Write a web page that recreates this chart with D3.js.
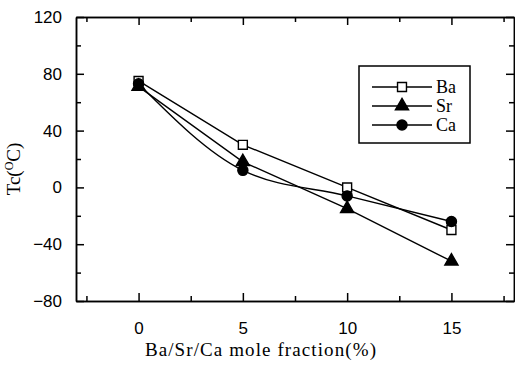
<!DOCTYPE html>
<html>
<head>
<meta charset="utf-8">
<script src="https://cdn.jsdelivr.net/npm/d3@7"></script>
<style>
  body { margin: 0; background: #fff; }
  svg { display: block; }
  .tick text { font-family: "Liberation Sans Narrow", "Liberation Sans", Arial, sans-serif; font-size: 17px; }
  .title { font-family: "Liberation Serif", "Times New Roman", serif; font-size: 19px; }
  .legend text { font-family: "Liberation Serif", "Times New Roman", serif; font-size: 18px; }
</style>
</head>
<body>
<svg width="515" height="368"></svg>
<script>
// data
let fractions = [0, 5, 10, 15];
let baValues = [75, 30, 0, -30];
let srValues = [71, 18, -15, -52];
let caValues = [73, 12, -6, -24];
let xTicks = [0, 5, 10, 15];
let yTicks = [-80, -40, 0, 40, 80, 120];

let seriesNames = ["Ba", "Sr", "Ca"];
let seriesList = [
  { name: "Ba", values: baValues, symbol: d3.symbolSquare, filled: false, curve: d3.curveLinear },
  { name: "Sr", values: srValues, symbol: d3.symbolTriangle, filled: true, curve: d3.curveLinear },
  { name: "Ca", values: caValues, symbol: d3.symbolCircle, filled: true, curve: d3.curveMonotoneX }
];

let svg = d3.select("svg");
let margin = { top: 17, right: 1, bottom: 67, left: 76 };
let width = 515 - margin.left - margin.right;
let height = 368 - margin.top - margin.bottom;

let x = d3.scaleLinear().domain([-3, 18]).range([0, width]);
let y = d3.scaleLinear().domain([-80, 120]).range([height, 0]);

let plot = svg.append("g").attr("transform", "translate(" + margin.left + "," + margin.top + ")");

// minor ticks
let xMinor = [-2.5, 2.5, 7.5, 12.5, 17.5];
let yMinor = [-60, -20, 20, 60, 100];

let xAxis = plot.append("g").attr("transform", "translate(0," + height + ")")
  .call(d3.axisBottom(x).tickValues(xTicks).tickSizeInner(-8).tickSizeOuter(0).tickPadding(21));
let yAxis = plot.append("g")
  .call(d3.axisLeft(y).tickValues(yTicks).tickSizeInner(-8).tickSizeOuter(0).tickPadding(14));
plot.append("g").attr("transform", "translate(0," + height + ")")
  .call(d3.axisBottom(x).tickValues(xMinor).tickSizeInner(-5).tickSizeOuter(0).tickFormat(""));
plot.append("g")
  .call(d3.axisLeft(y).tickValues(yMinor).tickSizeInner(-5).tickSizeOuter(0).tickFormat(""));
plot.append("g")
  .call(d3.axisTop(x).tickValues(xTicks).tickSizeInner(-8).tickSizeOuter(0).tickFormat(""));
plot.append("g")
  .call(d3.axisTop(x).tickValues(xMinor).tickSizeInner(-5).tickSizeOuter(0).tickFormat(""));
plot.append("g").attr("transform", "translate(" + width + ",0)")
  .call(d3.axisRight(y).tickValues(yTicks).tickSizeInner(-8).tickSizeOuter(0).tickFormat(""));
plot.append("g").attr("transform", "translate(" + width + ",0)")
  .call(d3.axisRight(y).tickValues(yMinor).tickSizeInner(-5).tickSizeOuter(0).tickFormat(""));

plot.selectAll(".domain, .tick line").attr("stroke", "#000").attr("stroke-width", 1.5);
plot.selectAll(".tick text").attr("fill", "#000");

// series lines
seriesList.forEach(function(s) {
  let line = d3.line()
    .x(function(d, i) { return x(fractions[i]); })
    .y(function(d) { return y(d); })
    .curve(s.curve);
  plot.append("path")
    .datum(s.values)
    .attr("d", line)
    .attr("fill", "none")
    .attr("stroke", "#000")
    .attr("stroke-width", 1.4);
});

// markers
seriesList.forEach(function(s) {
  let sym = d3.symbol().type(s.symbol).size(s.symbol === d3.symbolTriangle ? 75 : 80);
  plot.selectAll(null)
    .data(s.values)
    .enter().append("path")
    .attr("d", sym)
    .attr("transform", function(d, i) { return "translate(" + x(fractions[i]) + "," + y(d) + ")"; })
    .attr("fill", s.filled ? "#000" : "#fff")
    .attr("stroke", "#000")
    .attr("stroke-width", 1.4);
});

// legend
let legend = svg.append("g").attr("class", "legend").attr("transform", "translate(359,66)");
legend.append("rect").attr("width", 111).attr("height", 77)
  .attr("fill", "#fff").attr("stroke", "#000").attr("stroke-width", 1.5);
seriesList.forEach(function(s, i) {
  let ly = 21 + i * 19;
  legend.append("line").attr("x1", 13).attr("x2", 73).attr("y1", ly).attr("y2", ly)
    .attr("stroke", "#000").attr("stroke-width", 1.4);
  legend.append("path")
    .attr("d", d3.symbol().type(s.symbol).size(s.symbol === d3.symbolTriangle ? 75 : 80))
    .attr("transform", "translate(43," + ly + ")")
    .attr("fill", s.filled ? "#000" : "#fff")
    .attr("stroke", "#000").attr("stroke-width", 1.4);
  legend.append("text").attr("x", 77).attr("y", ly + 6).text(seriesNames[i]);
});

// axis titles
svg.append("text").attr("class", "title")
  .attr("x", 261).attr("y", 356)
  .attr("text-anchor", "middle")
  .attr("letter-spacing", 1.1)
  .text("Ba/Sr/Ca mole fraction(%)");

let yt = svg.append("text").attr("class", "title")
  .attr("transform", "translate(20,169) rotate(-90)")
  .attr("text-anchor", "middle");
yt.append("tspan").text("Tc(");
yt.append("tspan").attr("dy", -7).attr("font-size", 12).text("O");
yt.append("tspan").attr("dy", 7).text("C)");
</script>
</body>
</html>
